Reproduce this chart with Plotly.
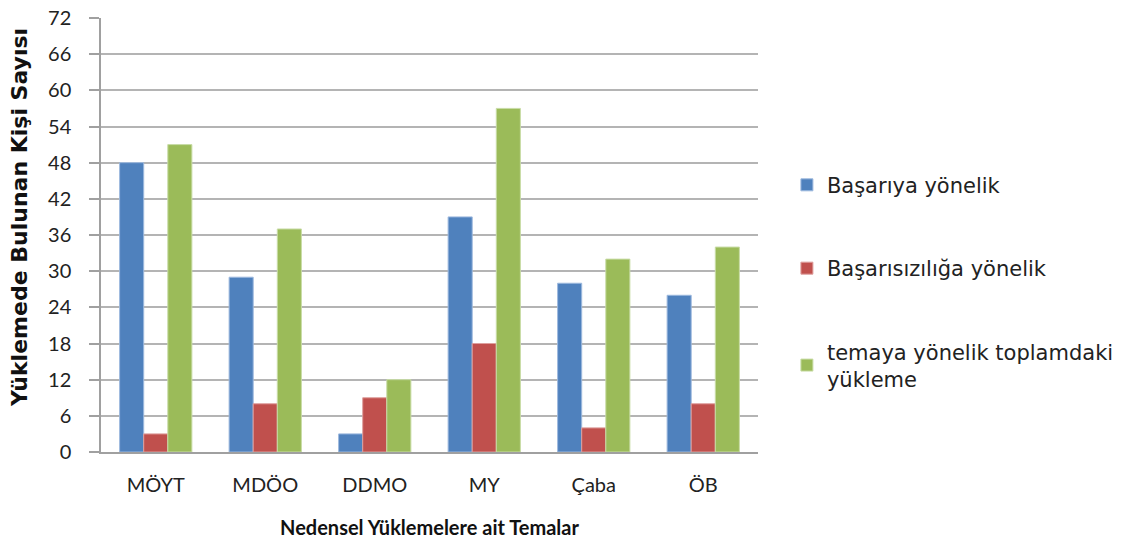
import plotly.graph_objects as go

categories = ["MÖYT", "MDÖO", "DDMO", "MY", "Çaba", "ÖB"]
basariya = [48, 29, 3, 39, 28, 26]
basarisizliga = [3, 8, 9, 18, 4, 8]
temaya = [51, 37, 12, 57, 32, 34]
series_names = ["Başarıya yönelik", "Başarısızılığa yönelik", "temaya yönelik toplamdaki<br>yükleme"]
colors = ["#4F81BD", "#C0504D", "#9BBB59"]
edge = ["#9DB9DE", "#DE9F9D", "#C8DCA6"]
y_ticks = list(range(0, 73, 6))

font = "Lato, 'Open Sans', sans-serif"
wide = "'DejaVu Sans', sans-serif"

fig = go.Figure()
for i, (name, vals) in enumerate(zip(series_names, [basariya, basarisizliga, temaya])):
    fig.add_trace(go.Bar(
        x=categories, y=vals, name=name, legendgroup=f"g{i}",
        marker=dict(color=colors[i], line=dict(color=edge[i], width=1)),
    ))

fig.update_layout(
    width=1145, height=541,
    margin=dict(l=101, r=387, t=18, b=89, autoexpand=False),
    paper_bgcolor="white", plot_bgcolor="white",
    barmode="group", bargap=0.34, bargroupgap=0,
    font=dict(family=font, color="#222222", size=19),
    legend=dict(x=1.044, y=0.662, xanchor="left", yanchor="top",
                font=dict(size=21, family=wide, color="#222222"),
                tracegroupgap=53, itemwidth=30),
    showlegend=True,
)
fig.add_annotation(
    text="<b>Yüklemede Bulunan Kişi Sayısı</b>", textangle=-90,
    xref="paper", yref="paper",
    x=(19 - 101) / 657, y=(452 - 218) / 434, xanchor="center", yanchor="middle",
    showarrow=False, font=dict(size=22, family=wide, color="#111111"),
)
fig.update_xaxes(
    automargin=False,
    showline=True, linecolor="#A0A0A0", linewidth=1.5,
    ticks="", ticklabelstandoff=14,
    tickfont=dict(size=20, family=font, color="#222222"),
    title=dict(text="<b>Nedensel Yüklemelere ait Temalar</b>", font=dict(size=20, family=font, color="#111111"), standoff=26),
)
fig.update_yaxes(
    automargin=False, ticklabeloverflow="allow",
    range=[0, 72], tickvals=y_ticks, ticktext=[str(v) for v in y_ticks],
    showline=True, linecolor="#A0A0A0", linewidth=1.5,
    showgrid=True, gridcolor="#B4B4B4", gridwidth=1.5,
    ticks="outside", ticklen=10, tickcolor="#A0A0A0", tickwidth=1.5,
    ticklabelstandoff=14,
    tickfont=dict(size=20, family=font, color="#222222"),
    zeroline=False,
)

fig.write_html("out.html", config={"displayModeBar": False},
               post_script="document.body.style.margin='0';")
